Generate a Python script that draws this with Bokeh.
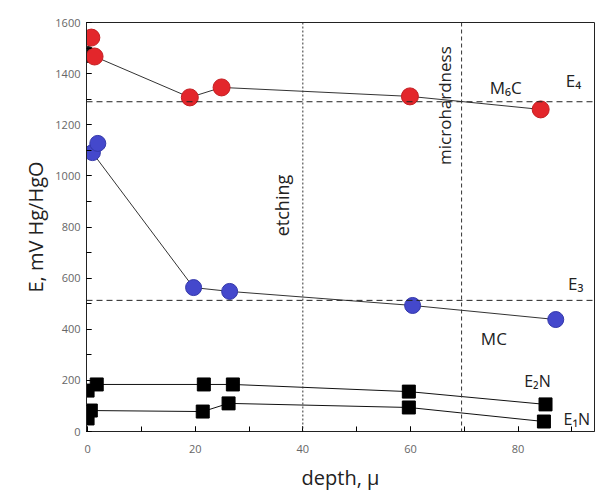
import math
from bokeh.plotting import figure
from bokeh.models import Range1d, Span, Label, FixedTicker
from bokeh.embed import file_html
from bokeh.resources import INLINE

# ---- data ----
red_x = [0.7, 1.3, 19.0, 24.9, 59.9, 84.2]
red_y = [1541, 1467, 1307, 1346, 1311, 1260]
red_line_x = [1.3, 19.0, 24.9, 59.9, 84.2]
red_line_y = [1467, 1307, 1346, 1311, 1260]
black_dot_x = [0.0]
black_dot_y = [1475]

blue_x = [0.9, 1.9, 19.7, 26.4, 60.4, 87.0]
blue_y = [1091, 1127, 563, 548, 493, 438]
blue_line_x = [0.9, 19.7, 26.4, 60.4, 87.0]
blue_line_y = [1091, 563, 548, 493, 438]

e2n_x = [0.0, 1.7, 21.6, 27.0, 59.7, 85.1]
e2n_y = [160, 184, 184, 184, 156, 106]
e1n_x = [0.0, 0.6, 21.4, 26.2, 59.7, 84.8]
e1n_y = [51, 82, 78, 110, 94, 39]

E4 = 1290
E3 = 513
etching_depth = 40
micro_depth = 69.5

x_ticks = [0, 20, 40, 60, 80]
y_ticks = [0, 200, 400, 600, 800, 1000, 1200, 1400, 1600]

FONT = "Open Sans"

p = figure(width=596, height=495, output_backend="svg", toolbar_location=None,
           x_range=Range1d(-0.2, 94.2), y_range=Range1d(0, 1600),
           min_border_left=86, min_border_right=2, min_border_top=22, min_border_bottom=64)
p.background_fill_color = "white"
p.border_fill_color = "white"
p.outline_line_color = "#222222"
p.outline_line_width = 1
p.grid.visible = False

for ax in (p.xaxis[0], p.yaxis[0]):
    ax.axis_line_color = "#222222"
    ax.major_tick_in = 5
    ax.major_tick_out = 0
    ax.minor_tick_in = 5
    ax.minor_tick_out = 0
    ax.major_label_text_font = FONT
    ax.major_label_text_font_size = "11px"
    ax.major_label_text_color = "#666666"
    ax.axis_label_text_font = FONT
    ax.axis_label_text_font_style = "normal"
    ax.axis_label_text_color = "#222222"

p.xaxis.ticker = FixedTicker(ticks=x_ticks, minor_ticks=list(range(0, 100, 10)))
p.yaxis.ticker = FixedTicker(ticks=y_ticks, minor_ticks=list(range(0, 1700, 100)))
p.xaxis.axis_label = "depth, μ"
p.yaxis.axis_label = "E, mV Hg/HgO"
p.xaxis.axis_label_text_font_size = "20px"
p.yaxis.axis_label_text_font_size = "20px"
p.xaxis.major_label_standoff = 13
p.xaxis.axis_label_standoff = 8
p.yaxis.major_label_standoff = 6
p.yaxis.axis_label_standoff = 3

# reference lines
p.add_layout(Span(location=E4, dimension="width", line_color="#222222", line_width=1, line_dash="6 4"))
p.add_layout(Span(location=E3, dimension="width", line_color="#222222", line_width=1, line_dash="6 4"))
p.add_layout(Span(location=etching_depth, dimension="height", line_color="#333333", line_width=1, line_dash="2 2"))
p.add_layout(Span(location=micro_depth, dimension="height", line_color="#333333", line_width=1, line_dash="4 3"))

# series lines
p.line(red_line_x, red_line_y, line_color="#333333", line_width=1)
p.line(blue_line_x, blue_line_y, line_color="#333333", line_width=1)
p.line(e2n_x[1:], e2n_y[1:], line_color="#111111", line_width=1)
p.line(e1n_x[1:], e1n_y[1:], line_color="#111111", line_width=1)

# markers
p.scatter(black_dot_x, black_dot_y, size=16, marker="circle", fill_color="#111111", line_color="#111111")
p.scatter(red_x, red_y, size=17, marker="circle", fill_color="#e3262b", line_color="#c41e22", line_width=1)
p.scatter(blue_x, blue_y, size=16, marker="circle", fill_color="#4448cc", line_color="#3438aa", line_width=1)
p.scatter(e2n_x, e2n_y, size=13, marker="square", fill_color="black", line_color="black")
p.scatter(e1n_x, e1n_y, size=13, marker="square", fill_color="black", line_color="black")

# annotations
def lab(x, y, t, size, angle=0.0):
    p.add_layout(Label(x=x, y=y, text=t, text_font=FONT, text_font_size=size,
                       text_color="#222222", angle=angle, text_align="center",
                       text_baseline="middle"))

lab(36.2, 884, "etching", "18px", math.pi / 2)
lab(66.4, 1275, "microhardness", "17px", math.pi / 2)
lab(77.7, 1346, "M₆C", "17px")
lab(90.3, 1373, "E₄", "17px")
lab(90.7, 579, "E₃", "17px")
lab(75.5, 364, "MC", "17px")
lab(83.6, 196, "E₂N", "16px")
lab(90.9, 47, "E₁N", "16px")

open("out.html", "w").write(file_html(p, INLINE))
